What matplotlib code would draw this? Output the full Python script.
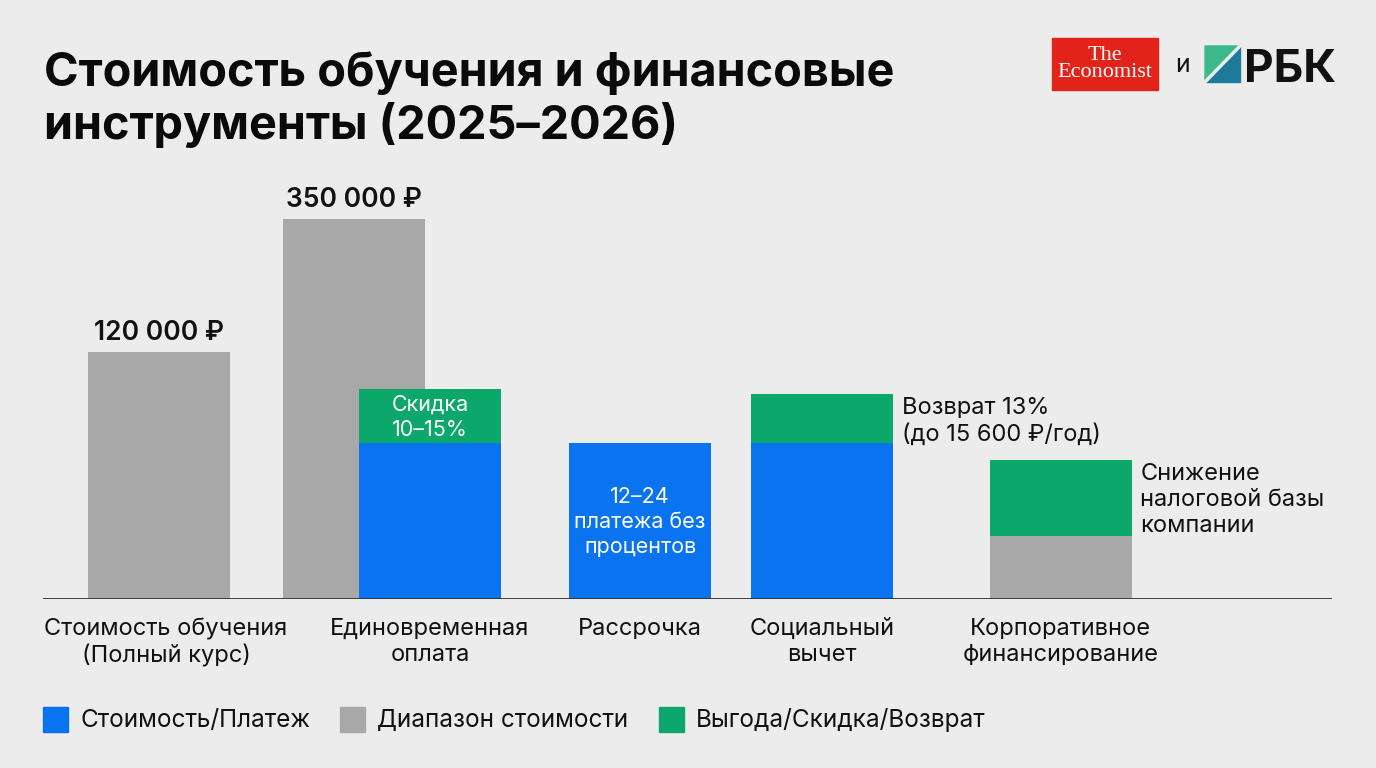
import matplotlib
matplotlib.use("Agg")
import matplotlib.pyplot as plt
from matplotlib.patches import Rectangle, Polygon
from matplotlib.lines import Line2D

plt.rcParams['font.family'] = ['Inter', 'DejaVu Sans']

# ---------------- data ----------------
categories = ["Стоимость обучения\n(Полный курс)", "Единовременная\nоплата",
              "Рассрочка", "Социальный\nвычет", "Корпоративное\nфинансирование"]
# visual bar heights (chart units, bars are not drawn to a common scale)
cost_low = 247          # 120 000 ₽
cost_high = 380         # 350 000 ₽
cost_labels = ["120 000 ₽", "350 000 ₽"]
blue_values = [0, 156, 156, 156, 0]     # Стоимость/Платеж
gray_values = [0, 0, 0, 0, 63]          # Диапазон стоимости
green_values = [0, 54, 0, 49, 76]       # Выгода/Скидка/Возврат
inside_labels = ["", "Скидка\n10–15%", "12–24\nплатежа без\nпроцентов", "", ""]
side_labels = ["", "", "", "Возврат 13%\n(до 15 600 ₽/год)", "Снижение\nналоговой базы\nкомпании"]
legend_labels = ["Стоимость/Платеж", "Диапазон стоимости", "Выгода/Скидка/Возврат"]
title = "Стоимость обучения и финансовые\nинструменты (2025–2026)"

# ---------------- style ----------------
BG = "#ececec"
BLUE = "#0a74f0"
GRAY = "#a8a8a8"
GREEN = "#0ca86b"
W, H = 1376, 768

fig = plt.figure(figsize=(W / 100, H / 100), dpi=100, facecolor=BG)

def fx(px):
    return px / W

def fy(py):
    return 1 - py / H

# axes in pixel-like units
x0, x1, ybase, ytop = 43, 1332, 599, 150
ax = fig.add_axes([fx(x0), fy(ybase), fx(x1) - fx(x0), fy(ytop) - fy(ybase)])
ax.set_facecolor(BG)
ax.set_xlim(x0, x1)
ax.set_ylim(0, ybase - ytop)
ax.axis('off')

cat_x = [159, 430, 640, 822, 1060.5]
cost_x = [159, 354]
bw = 142

# cost range bars (gray)
ax.bar(cost_x, [cost_low, cost_high], width=bw, color=GRAY, zorder=2)
for x, h, lab in zip(cost_x, [cost_low, cost_high], cost_labels):
    ax.text(x, h + 12, lab, ha='center', va='baseline', fontsize=19,
            fontweight='semibold', color='#111111', zorder=4)

# stacked bars
ax.bar(cat_x, blue_values, width=bw, color=BLUE, zorder=3)
ax.bar(cat_x, gray_values, width=bw, bottom=blue_values, color=GRAY, zorder=3)
bottoms = [b + g for b, g in zip(blue_values, gray_values)]
ax.bar(cat_x, green_values, width=bw, bottom=bottoms, color=GREEN, zorder=3)

ax.axhline(0, color='#333333', lw=1.3, zorder=5)

# inside labels
for i, lab in enumerate(inside_labels):
    if not lab:
        continue
    if green_values[i] > 0:
        yc = bottoms[i] + green_values[i] / 2 - 1
    else:
        yc = blue_values[i] / 2 - 1
    ax.text(cat_x[i], yc, lab, ha='center', va='center', fontsize=15.5,
            color='white', linespacing=1.32, zorder=6)

# side labels
for i, lab in enumerate(side_labels):
    if not lab:
        continue
    top = bottoms[i] + green_values[i]
    ax.text(cat_x[i] + bw / 2 + 9, top - 3, lab, ha='left', va='top', fontsize=17,
            color='#111111', linespacing=1.25, zorder=6)

# category labels
for x, lab in zip(cat_x, categories):
    ax.text(x + (7 if lab.startswith("Стоимость") else 0), -19, lab, ha='center', va='top',
            fontsize=17, color='#111111', linespacing=1.25)

# title
fig.text(fx(44), fy(86), title.split("\n")[0], ha='left', va='baseline', fontsize=33.7,
         fontweight='bold', color='#0a0a0a')
fig.text(fx(44), fy(139), title.split("\n")[1], ha='left', va='baseline', fontsize=33.7,
         fontweight='bold', color='#0a0a0a')

# legend
leg_colors = [BLUE, GRAY, GREEN]
leg_x = [43, 340, 659]
for lx, c, lab in zip(leg_x, leg_colors, legend_labels):
    fig.patches.append(Rectangle((fx(lx), fy(732)), fx(25), 25 / H, transform=fig.transFigure,
                                 color=c, figure=fig))
    fig.text(fx(lx + 37), fy(720), lab, ha='left', va='center', fontsize=17.5, color='#111111')

# logos
fig.patches.append(Rectangle((fx(1052), fy(90)), fx(106), 52 / H, transform=fig.transFigure,
                             color='#e2231a', figure=fig))
fig.text(fx(1105), fy(64), "The\nEconomist", ha='center', va='center', fontsize=16,
         family=['Liberation Serif', 'DejaVu Serif'], color='white', linespacing=0.9)
fig.text(fx(1182), fy(66), "и", ha='center', va='center', fontsize=18, color='#111111')
# RBK icon
sx0, sx1, sy0, sy1 = 1205, 1240, 46, 82
fig.patches.append(Polygon([(fx(sx0), fy(sy0)), (fx(sx1), fy(sy0)), (fx(sx0), fy(sy1))],
                           closed=True, transform=fig.transFigure, color='#3cb98a', figure=fig))
fig.patches.append(Polygon([(fx(sx1), fy(sy0)), (fx(sx1), fy(sy1)), (fx(sx0), fy(sy1))],
                           closed=True, transform=fig.transFigure, color='#1d7b99', figure=fig))
fig.lines.append(Line2D([fx(sx0), fx(sx1)], [fy(sy1), fy(sy0)], transform=fig.transFigure,
                        color=BG, lw=2.5, figure=fig))
fig.text(fx(1244), fy(82), "РБК", ha='left', va='baseline', fontsize=33,
         fontweight='bold', color='#111111')

fig.savefig("out.png", dpi=100, facecolor=BG)
